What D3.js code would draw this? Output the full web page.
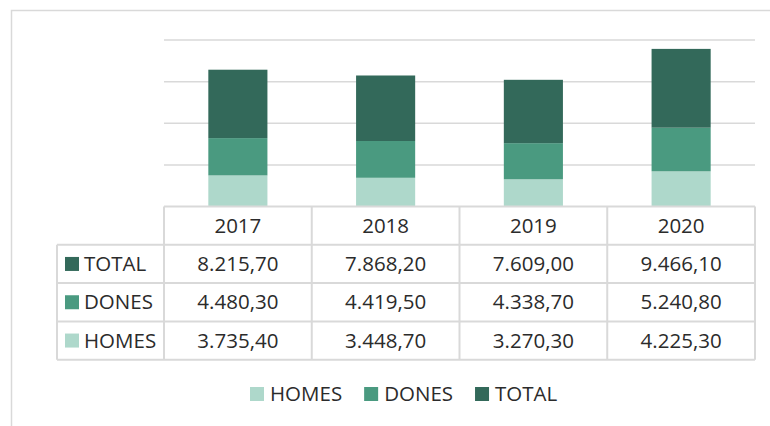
<!DOCTYPE html>
<head>
    <meta charset="utf-8">
    <script src="https://d3js.org/d3.v7.min.js"></script>
    <style>
        body { margin: 0; background: #fff; }
        text { font-family: "Open Sans", sans-serif; font-size: 20.5px; fill: #2b2b2b; }
    </style>
</head>
<body>
<div id="chart"></div>
<script>
    // data
    var years = ["2017", "2018", "2019", "2020"];
    var homes = [3735.4, 3448.7, 3270.3, 4225.3];
    var dones = [4480.3, 4419.5, 4338.7, 5240.8];
    var total = [8215.7, 7868.2, 7609.0, 9466.1];
    var yTicks = [0, 5000, 10000, 15000, 20000];

    var seriesNames = ["HOMES", "DONES", "TOTAL"];
    var colors = { HOMES: "#aed8cb", DONES: "#4a9a80", TOTAL: "#33695a" };
    var values = { HOMES: homes, DONES: dones, TOTAL: total };

    var width = 770, height = 426;
    var plot = { left: 164, right: 755, top: 40, bottom: 206.5 };
    var rowH = 38.3;
    var labelLeft = 57;
    var grid = "#d9d9d9";

    var fmt = d3.formatLocale({ decimal: ",", thousands: ".", grouping: [3], currency: ["", ""] }).format(",.2f");

    var svg = d3.select("#chart").append("svg")
        .attr("width", width)
        .attr("height", height);

    // outer frame (runs off the right and bottom edge)
    svg.append("rect")
        .attr("x", 11.5).attr("y", 10.5)
        .attr("width", 800).attr("height", 500)
        .attr("fill", "none").attr("stroke", grid).attr("stroke-width", 1.5);

    var x = d3.scaleBand().domain(years).range([plot.left, plot.right]).padding(0);
    var y = d3.scaleLinear().domain([0, 20000]).range([plot.bottom, plot.top]);

    // gridlines
    svg.append("g").selectAll("line")
        .data(yTicks.slice(1))
        .enter().append("line")
        .attr("x1", plot.left).attr("x2", plot.right)
        .attr("y1", function (d) { return y(d); })
        .attr("y2", function (d) { return y(d); })
        .attr("stroke", grid).attr("stroke-width", 1.5);

    // stacked bars
    var table = years.map(function (yr, i) {
        var row = { year: yr };
        seriesNames.forEach(function (s) { row[s] = values[s][i]; });
        return row;
    });
    var stack = d3.stack().keys(seriesNames)(table);
    var barW = x.bandwidth() * 0.4;

    svg.append("g").selectAll("g")
        .data(stack)
        .enter().append("g")
        .attr("fill", function (d) { return colors[d.key]; })
        .selectAll("rect")
        .data(function (d) { return d; })
        .enter().append("rect")
        .attr("x", function (d) { return x(d.data.year) + (x.bandwidth() - barW) / 2; })
        .attr("width", barW)
        .attr("y", function (d) { return y(d[1]); })
        .attr("height", function (d) { return y(d[0]) - y(d[1]); });

    // data table
    var t = svg.append("g");
    var tableRows = ["TOTAL", "DONES", "HOMES"];
    var tableTop = plot.bottom;
    var tableBottom = tableTop + rowH * (tableRows.length + 1);

    // horizontal lines
    t.append("line")
        .attr("x1", plot.left).attr("x2", plot.right)
        .attr("y1", tableTop).attr("y2", tableTop);
    for (var r = 1; r <= tableRows.length + 1; r++) {
        t.append("line")
            .attr("x1", labelLeft).attr("x2", plot.right)
            .attr("y1", tableTop + rowH * r).attr("y2", tableTop + rowH * r);
    }
    // vertical lines
    t.append("line")
        .attr("x1", labelLeft).attr("x2", labelLeft)
        .attr("y1", tableTop + rowH).attr("y2", tableBottom);
    years.forEach(function (yr) {
        t.append("line")
            .attr("x1", x(yr)).attr("x2", x(yr))
            .attr("y1", tableTop).attr("y2", tableBottom);
    });
    t.append("line")
        .attr("x1", plot.right).attr("x2", plot.right)
        .attr("y1", tableTop).attr("y2", tableBottom);
    t.selectAll("line").attr("stroke", grid).attr("stroke-width", 2);

    // header
    t.selectAll("text.year")
        .data(years)
        .enter().append("text")
        .attr("class", "year")
        .attr("x", function (d) { return x(d) + x.bandwidth() / 2; })
        .attr("y", tableTop + rowH / 2)
        .attr("dy", "0.35em")
        .attr("text-anchor", "middle")
        .text(function (d) { return d; });

    tableRows.forEach(function (s, r) {
        var cy = tableTop + rowH * (r + 1.5);
        t.append("rect")
            .attr("x", 65).attr("y", cy - 7)
            .attr("width", 14).attr("height", 14)
            .attr("fill", colors[s]);
        t.append("text")
            .attr("x", 84).attr("y", cy).attr("dy", "0.35em")
            .text(s);
        t.selectAll("text.v" + s)
            .data(values[s])
            .enter().append("text")
            .attr("class", "v" + s)
            .attr("x", function (d, i) { return x(years[i]) + x.bandwidth() / 2; })
            .attr("y", cy).attr("dy", "0.35em")
            .attr("text-anchor", "middle")
            .text(function (d) { return fmt(d); });
    });

    // legend
    var lx = 250, ly = 394;
    seriesNames.forEach(function (s) {
        svg.append("rect")
            .attr("x", lx).attr("y", ly - 7)
            .attr("width", 14).attr("height", 14)
            .attr("fill", colors[s]);
        var txt = svg.append("text")
            .attr("x", lx + 20).attr("y", ly).attr("dy", "0.35em")
            .text(s);
        lx += 20 + txt.node().getComputedTextLength() + 22;
    });
</script>
</body>
